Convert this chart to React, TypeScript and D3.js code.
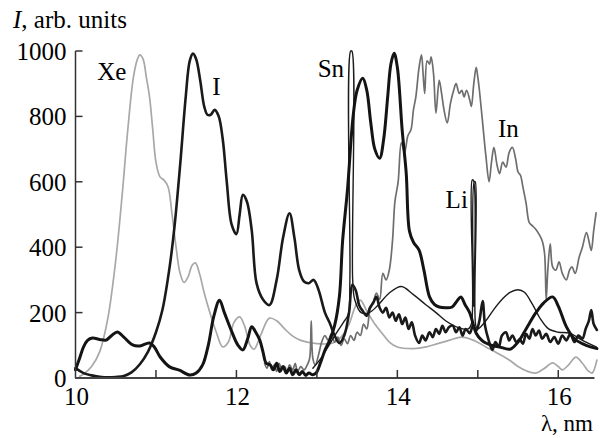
import React from "react";
import * as d3 from "d3";

type P = [number, number];

const xTicks = [11, 12, 13, 14, 15, 16];
const xLabels = [10, 12, 14, 16];
const yTicks = [200, 400, 600, 800, 1000];
const yLabels = [0, 200, 400, 600, 800, 1000];

const xe: P[] = [[10.05,5],[10.1,12],[10.2,35],[10.3,80],[10.4,180],[10.5,360],[10.58,560],[10.65,760],[10.72,920],[10.77,975],[10.8,988],[10.84,975],[10.88,920],[10.92,860],[10.96,760],[11.0,660],[11.05,615],[11.1,605],[11.15,585],[11.2,500],[11.25,400],[11.3,320],[11.35,292],[11.4,310],[11.45,345],[11.49,352],[11.54,320],[11.6,260],[11.67,200],[11.75,140],[11.83,95],[11.9,110],[11.97,170],[12.04,187],[12.1,160],[12.17,100],[12.22,88],[12.3,130],[12.41,183],[12.5,175],[12.6,150],[12.7,128],[12.8,115],[13.0,105],[13.2,107],[13.3,125],[13.4,165],[13.48,220],[13.54,238],[13.62,205],[13.72,165],[13.81,137],[13.9,110],[14.0,95],[14.2,90],[14.36,95],[14.5,105],[14.65,116],[14.8,125],[14.95,115],[15.1,95],[15.25,75],[15.39,55],[15.5,35],[15.6,22],[15.72,15],[15.82,28],[15.93,46],[16.0,35],[16.05,25],[16.12,38],[16.22,64],[16.3,45],[16.37,22],[16.42,15],[16.48,55]];

const iod: P[] = [[10.0,30],[10.1,15],[10.2,8],[10.3,4],[10.4,2],[10.5,3],[10.6,6],[10.7,18],[10.8,42],[10.9,80],[11.0,140],[11.08,208],[11.17,340],[11.23,462],[11.3,650],[11.37,860],[11.42,970],[11.46,992],[11.5,975],[11.55,910],[11.6,830],[11.64,805],[11.68,805],[11.73,820],[11.78,800],[11.83,730],[11.88,600],[11.94,470],[12.0,440],[12.04,500],[12.08,560],[12.13,540],[12.19,452],[12.25,290],[12.33,240],[12.41,223],[12.5,300],[12.58,430],[12.66,504],[12.72,430],[12.78,330],[12.84,295],[12.9,290],[12.96,300],[13.02,270],[13.1,200],[13.16,168],[13.22,130],[13.28,107],[13.34,130],[13.4,200],[13.44,285],[13.48,270],[13.53,220],[13.57,205],[13.62,190],[13.66,215],[13.7,230],[13.74,248],[13.78,215],[13.82,200],[13.86,215],[13.9,185],[13.94,200],[13.98,175],[14.02,195],[14.06,165],[14.1,185],[14.14,150],[14.18,170],[14.22,130],[14.27,107],[14.31,130],[14.35,115],[14.4,140],[14.44,125],[14.48,150],[14.52,135],[14.56,160],[14.6,140],[14.64,155],[14.69,160],[14.73,140],[14.77,155],[14.81,130],[14.85,150],[14.9,137],[14.94,160],[14.98,145],[15.02,175],[15.06,235],[15.09,160],[15.13,120],[15.18,86],[15.22,110],[15.26,95],[15.3,130],[15.35,140],[15.39,115],[15.43,130],[15.48,110],[15.52,118],[15.56,105],[15.6,135],[15.64,120],[15.68,150],[15.72,130],[15.76,145],[15.8,120],[15.85,135],[15.9,110],[15.95,125],[16.0,105],[16.05,130],[16.1,115],[16.15,135],[16.2,110],[16.25,130],[16.3,120],[16.34,150],[16.38,175],[16.41,208],[16.44,165],[16.48,147]];

const sn: P[] = [[10.0,25],[10.05,60],[10.1,95],[10.15,115],[10.21,122],[10.3,118],[10.38,116],[10.45,130],[10.52,141],[10.6,125],[10.71,101],[10.8,98],[10.92,107],[10.98,95],[11.05,65],[11.17,34],[11.29,24],[11.42,9],[11.5,15],[11.58,40],[11.65,100],[11.72,190],[11.79,238],[11.85,200],[11.95,137],[12.02,100],[12.08,86],[12.14,120],[12.19,157],[12.24,140],[12.29,116],[12.33,80],[12.37,45],[12.42,40],[12.46,25],[12.5,45],[12.54,20],[12.58,35],[12.62,15],[12.66,30],[12.7,10],[12.74,25],[12.78,10],[12.82,20],[12.86,8],[12.9,15],[12.95,10],[12.99,15],[13.05,50],[13.1,85],[13.16,116],[13.22,160],[13.28,250],[13.32,420],[13.38,575],[13.45,800],[13.5,880],[13.57,917],[13.62,880],[13.67,780],[13.72,700],[13.78,672],[13.83,730],[13.88,860],[13.92,960],[13.96,993],[14.0,950],[14.06,758],[14.11,627],[14.15,450],[14.2,415],[14.27,391],[14.33,330],[14.4,248],[14.46,225],[14.52,217],[14.6,215],[14.68,217],[14.74,235],[14.79,248],[14.84,225],[14.9,199],[14.98,137],[15.05,115],[15.1,107],[15.2,98],[15.27,95],[15.4,88],[15.5,110],[15.6,150],[15.72,199],[15.82,230],[15.93,248],[16.0,220],[16.1,157],[16.2,120],[16.3,105],[16.4,95],[16.48,90]];

const inn: P[] = [[12.35,45],[12.38,30],[12.41,50],[12.44,25],[12.47,40],[12.5,20],[12.53,45],[12.56,30],[12.6,35],[12.63,15],[12.66,40],[12.7,25],[12.73,45],[12.76,20],[12.8,35],[12.84,25],[12.88,40],[12.91,60],[12.93,175],[12.95,60],[12.98,40],[13.02,70],[13.06,110],[13.1,130],[13.14,115],[13.18,135],[13.22,110],[13.26,125],[13.3,100],[13.34,120],[13.38,105],[13.42,130],[13.46,115],[13.5,140],[13.54,130],[13.58,165],[13.62,150],[13.66,210],[13.7,230],[13.74,260],[13.78,240],[13.82,320],[13.86,300],[13.9,330],[13.94,420],[13.97,540],[14.01,600],[14.05,720],[14.09,690],[14.13,740],[14.17,760],[14.2,820],[14.23,860],[14.27,950],[14.3,988],[14.32,930],[14.34,870],[14.37,970],[14.4,960],[14.42,982],[14.45,930],[14.48,810],[14.52,910],[14.55,870],[14.58,820],[14.62,780],[14.66,840],[14.7,880],[14.73,900],[14.77,870],[14.8,880],[14.83,860],[14.86,880],[14.9,850],[14.92,830],[14.95,900],[14.98,950],[15.0,920],[15.02,880],[15.06,780],[15.1,680],[15.14,600],[15.17,660],[15.2,705],[15.24,650],[15.27,625],[15.31,660],[15.35,645],[15.39,690],[15.43,705],[15.47,670],[15.5,630],[15.53,620],[15.56,585],[15.6,535],[15.64,475],[15.68,465],[15.72,455],[15.76,440],[15.8,420],[15.83,380],[15.85,240],[15.87,330],[15.9,410],[15.93,340],[15.97,330],[16.01,355],[16.05,320],[16.1,300],[16.14,330],[16.17,340],[16.21,320],[16.26,370],[16.3,400],[16.35,445],[16.38,420],[16.41,390],[16.44,450],[16.47,505]];

const li: P[] = [[12.95,30],[13.05,60],[13.15,100],[13.25,140],[13.33,170],[13.39,195],[13.41,300],[13.42,1000],[13.435,1000],[13.445,300],[13.47,240],[13.55,200],[13.65,200],[13.75,220],[13.9,260],[14.05,280],[14.2,255],[14.35,225],[14.48,200],[14.6,175],[14.75,155],[14.88,150],[14.92,165],[14.93,605],[14.945,605],[14.95,220],[14.956,600],[14.968,600],[14.975,160],[15.0,150],[15.1,175],[15.2,210],[15.3,240],[15.4,262],[15.5,270],[15.58,262],[15.68,225],[15.78,180],[15.88,150],[16.0,140],[16.14,137],[16.3,115],[16.47,95]];

const series = [
  { name: "Xe", data: xe, color: "#a8a8a8", width: 1.7 },
  { name: "In", data: inn, color: "#6e6e6e", width: 1.7 },
  { name: "Li", data: li, color: "#1c1c1c", width: 1.4 },
  { name: "I", data: iod, color: "#1a1a1a", width: 2.6 },
  { name: "Sn", data: sn, color: "#141414", width: 3 },
];

const labels = [
  { text: "Xe", x: 10.27, y: 912 },
  { text: "I", x: 11.7, y: 866 },
  { text: "Sn", x: 13.01, y: 920 },
  { text: "In", x: 15.25, y: 738 },
  { text: "Li", x: 14.6, y: 520 },
];

export default function App() {
  const x = d3.scaleLinear().domain([10, 16.5]).range([75.5, 598.5]);
  const y = d3.scaleLinear().domain([0, 1000]).range([378, 51]);
  const line = d3
    .line<P>()
    .x((d) => x(d[0]))
    .y((d) => y(d[1]))
    .curve(d3.curveCatmullRom.alpha(0.5));
  const font = "'Liberation Serif', 'Times New Roman', serif";
  return (
    <svg
      width={604}
      height={438}
      style={{ position: "absolute", left: 0, top: 0, background: "#fff", fontFamily: font }}
    >
      <rect width={604} height={438} fill="#fff" />
      {series.map((s) => (
        <path
          key={s.name}
          d={line(s.data) || ""}
          fill="none"
          stroke={s.color}
          strokeWidth={s.width}
          strokeLinejoin="round"
          strokeLinecap="round"
        />
      ))}
      <line x1={x(10)} x2={x(10)} y1={y(1000)} y2={y(0)} stroke="#333" strokeWidth={1.5} />
      <line x1={x(10) - 0.5} x2={x(16.45)} y1={y(0)} y2={y(0)} stroke="#444" strokeWidth={2} />
      {yTicks.map((t) => (
        <line key={"yt" + t} x1={x(10)} x2={x(10) + 7} y1={y(t)} y2={y(t)} stroke="#333" strokeWidth={1.5} />
      ))}
      {xTicks.map((t) => (
        <line key={"xt" + t} x1={x(t)} x2={x(t)} y1={y(0)} y2={y(0) - 8} stroke="#333" strokeWidth={1.5} />
      ))}
      {yLabels.map((t) => (
        <text key={"yl" + t} x={x(10) - 9} y={y(t) + 9} textAnchor="end" fontSize={25} fill="#000" style={{ fontFamily: font }}>
          {t}
        </text>
      ))}
      {xLabels.map((t) => (
        <text key={"xl" + t} x={x(t) + 1} y={405} textAnchor="middle" fontSize={25} fill="#000" style={{ fontFamily: font }}>
          {t}
        </text>
      ))}
      <text x={13} y={28} fontSize={25} fill="#000" style={{ fontFamily: font }}>
        <tspan fontStyle="italic">I</tspan>, arb. units
      </text>
      <text x={593} y={431} textAnchor="end" fontSize={23} fill="#000" style={{ fontFamily: font }}>
        λ, nm
      </text>
      {labels.map((l) => (
        <text key={l.text} x={x(l.x)} y={y(l.y)} fontSize={25} fill="#000" style={{ fontFamily: font }}>
          {l.text}
        </text>
      ))}
    </svg>
  );
}
